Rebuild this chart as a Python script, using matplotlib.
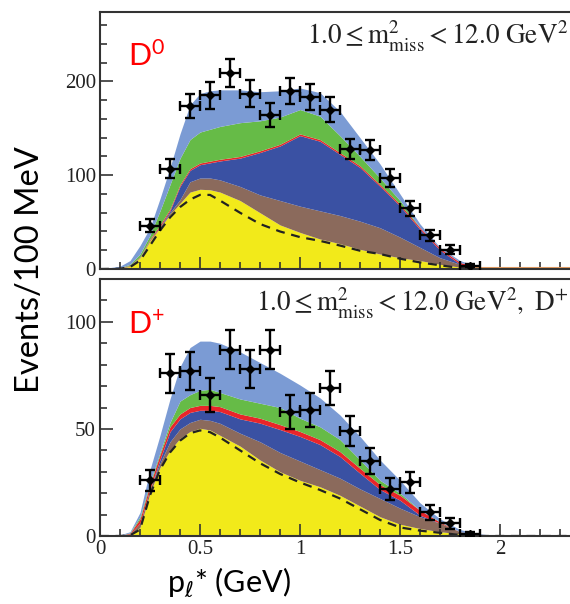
import matplotlib
matplotlib.use('Agg')
import matplotlib.pyplot as plt
import numpy as np
from matplotlib.ticker import MultipleLocator

# p* grid for the stacked fit components
x = [0, 0.1, 0.15, 0.2, 0.25, 0.3, 0.35, 0.4, 0.45, 0.5, 0.55, 0.6, 0.7,
     0.8, 0.9, 1.0, 1.1, 1.2, 1.3, 1.4, 1.5, 1.6, 1.7, 1.8, 1.9, 2.0, 2.5]

# D0 sample: upper edge of each stacked component
d0_total = [0, 3, 9, 25, 44, 75, 108, 144, 175, 187, 190, 191, 191, 189, 190,
            193, 188, 168, 140, 112, 80, 48, 23, 9, 2, 0, 0]
d0_green = [0, 1.5, 5, 16, 36, 62, 90, 118, 138, 146, 149, 152, 156, 158, 162,
            170, 163, 142, 120, 97, 73, 44, 22, 7, 1.5, 0, 0]
d0_red = [0, 1, 4, 13, 32, 47, 64, 90, 107, 113, 115, 117, 120, 126, 133,
          144, 138, 124, 110, 90, 69, 44, 22, 7, 1.5, 0, 0]
d0_brown = [0, 0.8, 3.5, 12.5, 31, 45, 60, 74, 93, 97, 97, 95, 88, 79, 73,
            67, 62, 57, 51, 44, 34, 23, 12, 5, 1, 0, 0]
d0_yellow = [0, 0.5, 3, 12, 30, 44, 58, 70, 82, 85, 84.5, 82, 73, 60, 47,
             39, 32, 27, 21, 16, 12, 9, 5, 2, 0.5, 0, 0]
d0_dashed = [0, 0.3, 2, 9, 25, 41, 55, 66, 74, 79, 79, 73, 60, 48, 40,
             34, 30, 25, 19.5, 16, 11, 7, 4, 1, 0, 0, 0]

# D+ sample
dp_total = [0, 0.5, 2, 11, 31, 47, 64, 79, 88, 91, 91, 90, 86, 81, 76,
            70.5, 64.5, 56.5, 46.5, 35.5, 26, 15.5, 8, 3, 1, 0, 0]
dp_green = [0, 0.3, 1.5, 9, 25, 39, 53, 63, 66, 68, 68.5, 67, 64, 62, 60,
            55, 51, 45, 35.5, 26, 20, 12, 6.7, 2, 0.5, 0, 0]
dp_red = [0, 0.3, 1.3, 8, 24, 38, 51, 57, 60, 61, 61, 60.4, 57, 55, 52,
          48.8, 45, 39.4, 31.6, 24, 19, 12, 6.5, 2, 0.5, 0, 0]
dp_brown = [0, 0.2, 1, 6, 22, 34, 44, 50, 53, 54.5, 54, 52.6, 48, 44, 39,
            35, 31, 27, 22, 17.5, 13, 9, 6, 2, 0.5, 0, 0]
dp_yellow = [0, 0.1, 0.5, 4, 20, 32, 40, 45.6, 48.8, 50.3, 49.5, 47, 42, 35.5, 30,
             26, 23, 19, 14, 9, 5.5, 3.5, 2, 1, 0.3, 0, 0]
dp_dashed = [0, 0, 0.3, 3, 19, 31, 39, 44.5, 48, 49.3, 48.5, 46, 40, 34, 29,
             25, 21.5, 17.5, 12.5, 7.5, 4, 2.5, 1.5, 0.5, 0, 0, 0]

# data points
pts_x = [0.25, 0.35, 0.45, 0.55, 0.65, 0.75, 0.85, 0.95, 1.05, 1.15, 1.25,
         1.35, 1.45, 1.55, 1.65, 1.75, 1.85]
d0_y = [46, 107, 174, 185, 209, 187, 164, 190, 183, 170, 128, 127, 97, 65, 36, 20.5, 3.6]
d0_err = [7, 10, 13, 14, 15, 14, 13, 14, 14, 13, 11, 11, 10, 8, 6, 5, 2]
dp_y = [26, 76, 77, 66, 87, 78, 87, 58, 59, 69, 49, 35, 22, 25, 11, 6, 1]
dp_err = [5, 9, 9, 8, 9, 9, 9, 8, 8, 8, 7, 6, 5, 5, 3.5, 2.5, 1]

c_lblue = '#7b9bd4'
c_green = '#66bb47'
c_red = '#e8252a'
c_dblue = '#3a51a3'
c_brown = '#8b6a5c'
c_yellow = '#f2ea1a'

plt.rcParams['mathtext.fontset'] = 'custom'
plt.rcParams['mathtext.rm'] = 'Lato'
plt.rcParams['mathtext.it'] = 'Lato:italic'

fig = plt.figure(figsize=(5.7, 6.04), dpi=100)
W, H = 570.0, 604.0
x0_px = 100
px_per_unit = 200.0
xmax = 2.5
ax_w = xmax * px_per_unit / W


def draw_panel(ax, total, green, red, brown, yellow, dashed, red_w,
               py, perr, ymax, major, minor, note, show_x=True):
    xa = np.array(x)
    red_a = np.array(red)
    ax.fill_between(xa, 0, yellow, color=c_yellow, lw=0)
    ax.fill_between(xa, yellow, brown, color=c_brown, lw=0)
    ax.fill_between(xa, brown, np.maximum(red_a - red_w, brown), color=c_dblue, lw=0)
    ax.fill_between(xa, np.maximum(red_a - red_w, brown), red, color=c_red, lw=0)
    ax.fill_between(xa, red, green, color=c_green, lw=0)
    ax.fill_between(xa, green, total, color=c_lblue, lw=0)
    ax.plot(xa, dashed, color='#222222', ls=(0, (4, 3)), lw=1.6)
    ax.errorbar(pts_x, py, yerr=perr, xerr=0.05, fmt='D', color='black',
                ms=4.5, elinewidth=1.7, capsize=3.5, capthick=1.7, zorder=5)
    ax.set_xlim(0, xmax)
    ax.set_ylim(0, ymax)
    ax.xaxis.set_major_locator(MultipleLocator(0.5))
    ax.xaxis.set_minor_locator(MultipleLocator(0.1))
    ax.yaxis.set_major_locator(MultipleLocator(major))
    ax.yaxis.set_minor_locator(MultipleLocator(minor))
    ax.tick_params(which='both', direction='in', top=False, right=False,
                   width=1.2, color='#333333', labelcolor='#222222')
    ax.tick_params(which='major', length=9, labelsize=15, pad=3)
    ax.tick_params(which='minor', length=5)
    ax.set_xticks([0, 0.5, 1, 1.5, 2])
    ax.set_xticklabels(['0', '0.5', '1', '1.5', '2'])
    ax.tick_params(axis='x', labelbottom=show_x)
    for lab in ax.get_xticklabels() + ax.get_yticklabels():
        lab.set_fontfamily('Liberation Serif')
    for s in ax.spines.values():
        s.set_linewidth(1.5)
        s.set_color('#333333')
    ax.text(0.995 * 2.35 / xmax, 0.905, note, transform=ax.transAxes, ha='right',
            va='center', fontsize=19.5, family='Liberation Serif',
            math_fontfamily='stix', color='#222222')


ax1 = fig.add_axes([x0_px / W, 1 - 269 / H, ax_w, 257 / H])
draw_panel(ax1, d0_total, d0_green, d0_red, d0_brown, d0_yellow, d0_dashed, 1.8,
           d0_y, d0_err, 274, 100, 20,
           r'$\mathrm{1.0 \leq m^{2}_{miss} < 12.0\ GeV^{2}}$', show_x=False)
ax1.plot([1.85, xmax], [0.8, 0.8], color='#e09a60', lw=1.5)
ax1.text(0.14, 227, r'D$^{\mathregular{0}}$', color='#ff0000', fontsize=22,
         family='Lato', va='center')

ax2 = fig.add_axes([x0_px / W, 1 - 536 / H, ax_w, 257 / H])
draw_panel(ax2, dp_total, dp_green, dp_red, dp_brown, dp_yellow, dp_dashed, 2.3,
           dp_y, dp_err, 120, 50, 10,
           r'$\mathrm{1.0 \leq m^{2}_{miss} < 12.0\ GeV^{2},\ D^{+}}$')
ax2.text(0.14, 99, r'D$^{\mathregular{+}}$', color='#ff0000', fontsize=22,
         family='Lato', va='center')

fig.text(30 / W, 1 - 270 / H, 'Events/100 MeV', rotation=90, ha='center',
         va='center', fontsize=23.5, family='Lato')
fig.text(229 / W, 1 - 582 / H, r'p$_\ell$* (GeV)', ha='center', va='center',
         fontsize=22, family='Lato', math_fontfamily='dejavusans')

fig.savefig('out.png', dpi=100)
